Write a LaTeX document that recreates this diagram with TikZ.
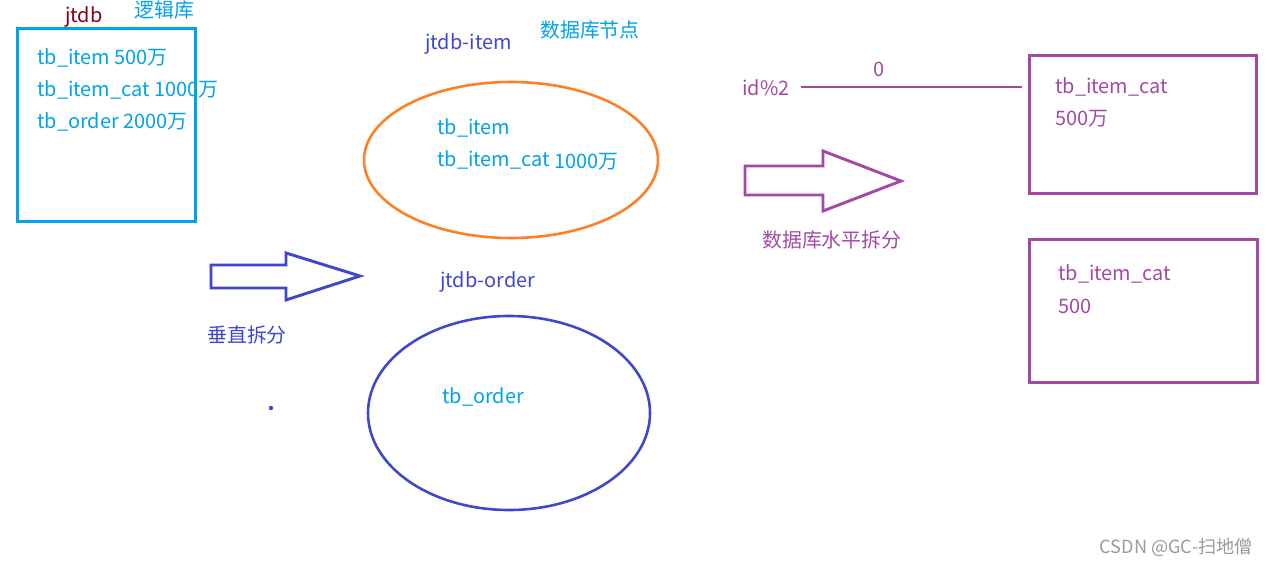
\documentclass[tikz,border=0pt]{standalone}
\usepackage{fontspec}
\setmainfont{Noto Sans CJK SC}
\usetikzlibrary{calc,shapes.geometric}
\definecolor{cyanT}{HTML}{00A2E8}
\definecolor{dred}{HTML}{880015}
\definecolor{indigo}{HTML}{3F48CC}
\definecolor{orangeE}{HTML}{FF7F27}
\definecolor{purp}{HTML}{A349A4}
\definecolor{wm}{HTML}{9A9A9A}
\tikzset{
  lbl/.style={inner sep=0pt, anchor=west, font=\fontsize{17pt}{19pt}\selectfont},
  thick3/.style={line width=2.5pt},
  ell/.style={line width=2.2pt},
}
\begin{document}
\begin{tikzpicture}[x=0.03cm,y=-0.03cm]
\useasboundingbox (0,0) rectangle (1267,565);
% left logical db box
\node[draw=cyanT, thick3, minimum width=178*0.03cm, minimum height=193*0.03cm, inner sep=0, anchor=north west] (ldb) at (16,27) {};
\node[lbl, text=dred] (jtdb) at (65,17) {jtdb};
\node[lbl, text=cyanT] (ljk) at (134,10) {逻辑库};
\node[lbl, text=cyanT] (t1) at (37,58) {tb\_item 500万};
\node[lbl, text=cyanT] (t2) at (37,90) {tb\_item\_cat 1000万};
\node[lbl, text=cyanT] (t3) at (37,122) {tb\_order 2000万};
% database nodes
\node[lbl, text=cyanT] (sjkjd) at (540,30) {数据库节点};
\node[lbl, text=indigo] (jitem) at (425,44) {jtdb-item};
\node[draw=orangeE, ell, ellipse, minimum width=294*0.03cm, minimum height=156*0.03cm, inner sep=0] (e1) at (511,160) {};
\node[lbl, text=cyanT] (e1a) at (437,128) {tb\_item};
\node[lbl, text=cyanT] (e1b) at (437,160) {tb\_item\_cat};
\node[lbl, text=cyanT] (e1c) at (554,162) {1000万};
\node[lbl, text=indigo] (jorder) at (440,282) {jtdb-order};
\node[draw=indigo, ell, ellipse, minimum width=282*0.03cm, minimum height=194*0.03cm, inner sep=0] (e2) at (509,413) {};
\node[lbl, text=cyanT] (e2a) at (442,397) {tb\_order};
% vertical split arrow
\draw[indigo, thick3, line join=miter] (211,265) -- (286,265) -- (286,253) -- (360,276) -- (286,300) -- (286,288) -- (211,288) -- cycle;
\node[lbl, text=indigo] (czcf) at (207,335) {垂直拆分};
\fill[indigo] (271,408) circle (2.2);
% horizontal split
\node[lbl, text=purp] (idm) at (742,88) {id\%2};
\node[lbl, text=purp] (zero) at (873,69) {0};
\draw[purp, thick3, line join=miter] (745,166) -- (823,166) -- (823,151) -- (901,181) -- (823,211) -- (823,195) -- (745,195) -- cycle;
\node[lbl, text=purp] (spcf) at (762,240) {数据库水平拆分};
\node[draw=purp, thick3, minimum width=227*0.03cm, minimum height=138*0.03cm, inner sep=0, anchor=north west] (b1) at (1028,54) {};
\node[lbl, text=purp] (b1a) at (1055,87) {tb\_item\_cat};
\node[lbl, text=purp] (b1b) at (1055,119) {500万};
\node[draw=purp, thick3, minimum width=228*0.03cm, minimum height=143*0.03cm, inner sep=0, anchor=north west] (b2) at (1028,238) {};
\node[lbl, text=purp] (b2a) at (1058,274) {tb\_item\_cat};
\node[lbl, text=purp] (b2b) at (1058,306) {500};
\draw[purp, thick3] ($(idm.east)+(11,-1)$) -- ($(b1.west |- idm.east)+(-6,-1)$);
% watermark
\node[inner sep=0, anchor=east, text=wm, font=\fontsize{15.5pt}{17pt}\selectfont] (wmk) at (1253,547) {CSDN @GC-扫地僧};
\end{tikzpicture}
\end{document}
